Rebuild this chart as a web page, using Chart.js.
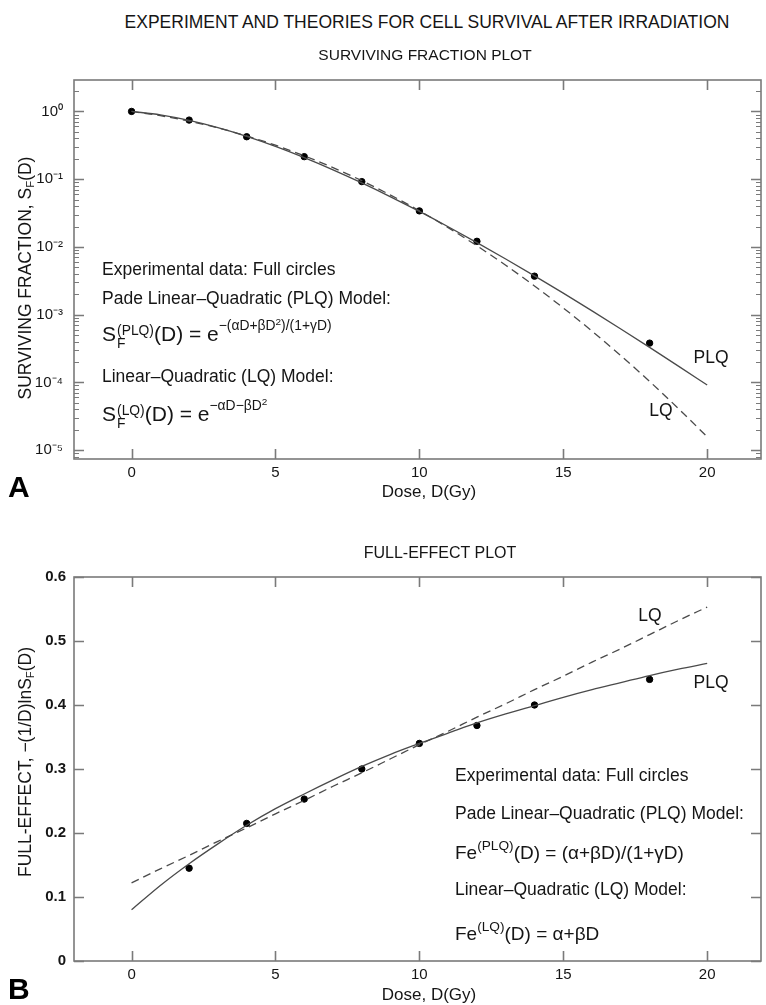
<!DOCTYPE html>
<html><head><meta charset="utf-8">
<script src="https://cdn.jsdelivr.net/npm/chart.js@4.4.1/dist/chart.umd.min.js"></script>
<style>
html,body{margin:0;padding:0;background:#fff;width:766px;height:1005px;overflow:hidden;font-family:"Liberation Sans",Arial,Helvetica,sans-serif;color:#151515;}
.t{position:absolute;white-space:nowrap;transform:translate(-50%,-50%);}
.ann{position:absolute;white-space:nowrap;transform:translateY(-50%);font-size:17.5px;line-height:1;}
.big{font-size:21px;}
.ss{display:inline-block;vertical-align:-0.55em;line-height:1.0;font-size:0.66em;margin-left:1px;}
.ss span{display:block;}
sup,sub{line-height:0;}
sup.ex{font-size:0.66em;vertical-align:0.75em;}
sup.ex sup{font-size:0.72em;vertical-align:0.55em;}
sup.fe{font-size:0.72em;vertical-align:0.6em;}
.fe2{font-size:19px;}
.yt{position:absolute;white-space:nowrap;transform:translate(-50%,-50%) rotate(-90deg);font-size:17.5px;}
.yt sub{font-size:0.65em;vertical-align:-0.35em;}
.lbl{position:absolute;font-weight:bold;font-size:30px;line-height:1;font-family:"Liberation Sans Narrow","Liberation Sans",Arial,sans-serif;color:#000;}
canvas{position:absolute;left:0;}
</style></head>
<body>
<canvas id="c1" width="766" height="440" style="top:60px"></canvas>
<canvas id="c2" width="766" height="445" style="top:560px"></canvas>

<div class="t" style="left:427px;top:22px;font-size:17.5px;">EXPERIMENT AND THEORIES FOR CELL SURVIVAL AFTER IRRADIATION</div>
<div class="t" style="left:425px;top:55px;font-size:15.5px;">SURVIVING FRACTION PLOT</div>
<div class="t" style="left:440px;top:553px;font-size:16px;">FULL-EFFECT PLOT</div>

<div class="yt" style="left:25px;top:278px;">SURVIVING FRACTION, S<sub>F</sub>(D)</div>
<div class="yt" style="left:25px;top:762px;">FULL-EFFECT, −(1/D)lnS<sub>F</sub>(D)</div>

<div class="t" style="left:429px;top:492px;font-size:17px;">Dose, D(Gy)</div>
<div class="t" style="left:429px;top:995px;font-size:17px;">Dose, D(Gy)</div>

<div class="lbl" style="left:8px;top:472px;">A</div>
<div class="lbl" style="left:8px;top:974px;">B</div>

<div class="ann" style="left:102px;top:270px;">Experimental data: Full circles</div>
<div class="ann" style="left:102px;top:299px;">Pade Linear–Quadratic (PLQ) Model:</div>
<div class="ann big" style="left:102px;top:337px;">S<span class="ss"><span>(PLQ)</span><span>F</span></span>(D) = e<sup class="ex">−(αD+βD<sup>2</sup>)/(1+γD)</sup></div>
<div class="ann" style="left:102px;top:377px;">Linear–Quadratic (LQ) Model:</div>
<div class="ann big" style="left:102px;top:417px;">S<span class="ss"><span>(LQ)</span><span>F</span></span>(D) = e<sup class="ex">−αD−βD<sup>2</sup></sup></div>

<div class="t" style="left:711px;top:357px;font-size:17.5px;">PLQ</div>
<div class="t" style="left:661px;top:410px;font-size:17.5px;">LQ</div>

<div class="ann" style="left:455px;top:776px;">Experimental data: Full circles</div>
<div class="ann" style="left:455px;top:814px;">Pade Linear–Quadratic (PLQ) Model:</div>
<div class="ann fe2" style="left:455px;top:852px;">Fe<sup class="fe">(PLQ)</sup>(D) = (α+βD)/(1+γD)</div>
<div class="ann" style="left:455px;top:890px;">Linear–Quadratic (LQ) Model:</div>
<div class="ann fe2" style="left:455px;top:933px;">Fe<sup class="fe">(LQ)</sup>(D) = α+βD</div>

<div class="t" style="left:650px;top:615px;font-size:17.5px;">LQ</div>
<div class="t" style="left:711px;top:682px;font-size:17.5px;">PLQ</div>

<script>
// ---------- data ----------
const expDose = [0, 2, 4, 6, 8, 10, 12, 14, 18];
const expSurvival = [1, 0.745, 0.423, 0.215, 0.092, 0.034, 0.0121, 0.0037, 0.00038];
const expEffectDose = [2, 4, 6, 8, 10, 12, 14, 18];
const expEffect = [0.145, 0.215, 0.253, 0.300, 0.340, 0.368, 0.400, 0.440];

const curveDose = [0, 1, 2, 3, 4, 5, 6, 7, 8, 9, 10, 11, 12, 13, 14, 15, 16, 17, 18, 19, 20];
const plqSurvival = [1, 0.889, 0.737, 0.577, 0.429, 0.305, 0.208, 0.1375, 0.0881, 0.0549, 0.0334,
  0.01985, 0.01157, 0.00664, 0.00374, 0.00208, 0.001137, 0.000615, 0.000329, 0.000174, 0.0000914];
const lqSurvival = [1, 0.866, 0.719, 0.571, 0.435, 0.317, 0.221, 0.148, 0.0949, 0.0582, 0.0342,
  0.01926, 0.01039, 0.00536, 0.00265, 0.001256, 0.000571, 0.000248, 0.0001033, 0.0000411, 0.0000157];
const plqEffect = [0.080, 0.118, 0.152, 0.183, 0.212, 0.238, 0.261, 0.283, 0.304, 0.323, 0.340,
  0.356, 0.372, 0.386, 0.399, 0.412, 0.424, 0.435, 0.446, 0.456, 0.465];
const lqEffect = [0.122, 0.144, 0.165, 0.187, 0.208, 0.230, 0.251, 0.273, 0.294, 0.316, 0.338,
  0.359, 0.381, 0.402, 0.424, 0.445, 0.467, 0.488, 0.510, 0.532, 0.553];

const xTicks = [0, 5, 10, 15, 20];
const logTicks = [1e-5, 1e-4, 1e-3, 1e-2, 1e-1, 1];
const logTickLabels = ['10⁻⁵', '10⁻⁴', '10⁻³', '10⁻²', '10⁻¹', '10⁰'];
const minorMultipliers = [2, 3, 4, 5, 6, 7, 8, 9];
const effectTicks = [0, 0.1, 0.2, 0.3, 0.4, 0.5, 0.6];
const effectTickLabels = ['0', '0.1', '0.2', '0.3', '0.4', '0.5', '0.6'];

// ---------- styling ----------
const AXIS = '#7a7a7a';
const LINE = '#4a4a4a';
const FONT = '"Liberation Sans", Arial, sans-serif';
const TXT = '#151515';

const frame = {
  id: 'frame',
  afterDatasetsDraw(chart, args, o) {
    const { ctx, chartArea: a, scales: { x, y } } = chart;
    ctx.save();
    ctx.strokeStyle = AXIS; ctx.lineWidth = 1.6;
    ctx.strokeRect(a.left, a.top, a.right - a.left, a.bottom - a.top);
    ctx.beginPath();
    o.xMajor.forEach(v => { const p = Math.round(x.getPixelForValue(v)) + 0.5;
      ctx.moveTo(p, a.bottom); ctx.lineTo(p, a.bottom - o.len);
      ctx.moveTo(p, a.top); ctx.lineTo(p, a.top + o.len); });
    o.yMajor.forEach(v => { const p = Math.round(y.getPixelForValue(v)) + 0.5;
      ctx.moveTo(a.left, p); ctx.lineTo(a.left + o.len, p);
      ctx.moveTo(a.right, p); ctx.lineTo(a.right - o.len, p); });
    ctx.stroke();
    if (o.yMinor) {
      ctx.lineWidth = 1.1; ctx.beginPath();
      o.yMinor.forEach(v => { const p = Math.round(y.getPixelForValue(v)) + 0.5;
        if (p < a.top + 1 || p > a.bottom - 1) return;
        ctx.moveTo(a.left, p); ctx.lineTo(a.left + o.minorLen, p);
        ctx.moveTo(a.right, p); ctx.lineTo(a.right - o.minorLen, p); });
      ctx.stroke();
    }
    ctx.restore();
  }
};

function pts(xs, ys) { return xs.map((d, i) => ({ x: d, y: ys[i] })); }

const xScale = (h) => ({
  type: 'linear', min: -2, max: 21.87,
  afterBuildTicks: s => { s.ticks = xTicks.map(v => ({ value: v })); },
  afterFit: s => { s.height = h; },
  grid: { display: false, drawTicks: false }, border: { display: false },
  ticks: { color: TXT, font: { family: FONT, size: 15 }, padding: 5, maxRotation: 0 }
});

const lineDs = (data, dashed) => ({
  type: 'scatter', data, showLine: true, borderColor: LINE, borderWidth: 1.3,
  borderDash: dashed ? [8, 5] : [], pointRadius: 0, cubicInterpolationMode: 'monotone', fill: false
});
const dotDs = (data) => ({
  type: 'scatter', data, pointRadius: 3.2, pointBackgroundColor: '#000', pointBorderColor: '#000', showLine: false
});

const minorLog = [];
logTicks.concat([10]).forEach(dec => minorMultipliers.forEach(m => minorLog.push(m * dec / 10)));

new Chart(document.getElementById('c1'), {
  type: 'scatter',
  data: { datasets: [
    lineDs(pts(curveDose, lqSurvival), true),
    lineDs(pts(curveDose, plqSurvival), false),
    dotDs(pts(expDose, expSurvival))
  ] },
  options: {
    responsive: false, animation: false, clip: false,
    layout: { padding: { top: 13, right: 0, left: 0, bottom: 0 } },
    plugins: { legend: { display: false }, tooltip: { enabled: false },
      frame: { xMajor: xTicks, yMajor: logTicks, yMinor: minorLog, len: 10, minorLen: 5 } },
    scales: {
      x: xScale(41),
      y: {
        type: 'logarithmic', min: 7.4e-6, max: 2.91,
        afterBuildTicks: s => { s.ticks = logTicks.map(v => ({ value: v })); },
        afterFit: s => { s.width = 74; },
        grid: { display: false, drawTicks: false }, border: { display: false },
        ticks: { color: TXT, font: { family: FONT, size: 15 }, padding: 11,
          callback: (v) => { const i = logTicks.findIndex(t => Math.abs(t - v) / t < 1e-6); return i >= 0 ? logTickLabels[i] : ''; } }
      }
    }
  },
  plugins: [frame]
});

new Chart(document.getElementById('c2'), {
  type: 'scatter',
  data: { datasets: [
    lineDs(pts(curveDose, lqEffect), true),
    lineDs(pts(curveDose, plqEffect), false),
    dotDs(pts(expEffectDose, expEffect))
  ] },
  options: {
    responsive: false, animation: false, clip: false,
    layout: { padding: { top: 13, right: 0, left: 0, bottom: 0 } },
    plugins: { legend: { display: false }, tooltip: { enabled: false },
      frame: { xMajor: xTicks, yMajor: effectTicks, len: 10 } },
    scales: {
      x: xScale(44),
      y: {
        type: 'linear', min: 0, max: 0.6,
        afterBuildTicks: s => { s.ticks = effectTicks.map(v => ({ value: v })); },
        afterFit: s => { s.width = 74; },
        grid: { display: false, drawTicks: false }, border: { display: false },
        ticks: { color: TXT, font: { family: FONT, size: 15, weight: 'bold' }, padding: 8,
          callback: (v) => { const i = effectTicks.findIndex(t => Math.abs(t - v) < 1e-9); return i >= 0 ? effectTickLabels[i] : ''; } }
      }
    }
  },
  plugins: [frame]
});
</script>
</body></html>
